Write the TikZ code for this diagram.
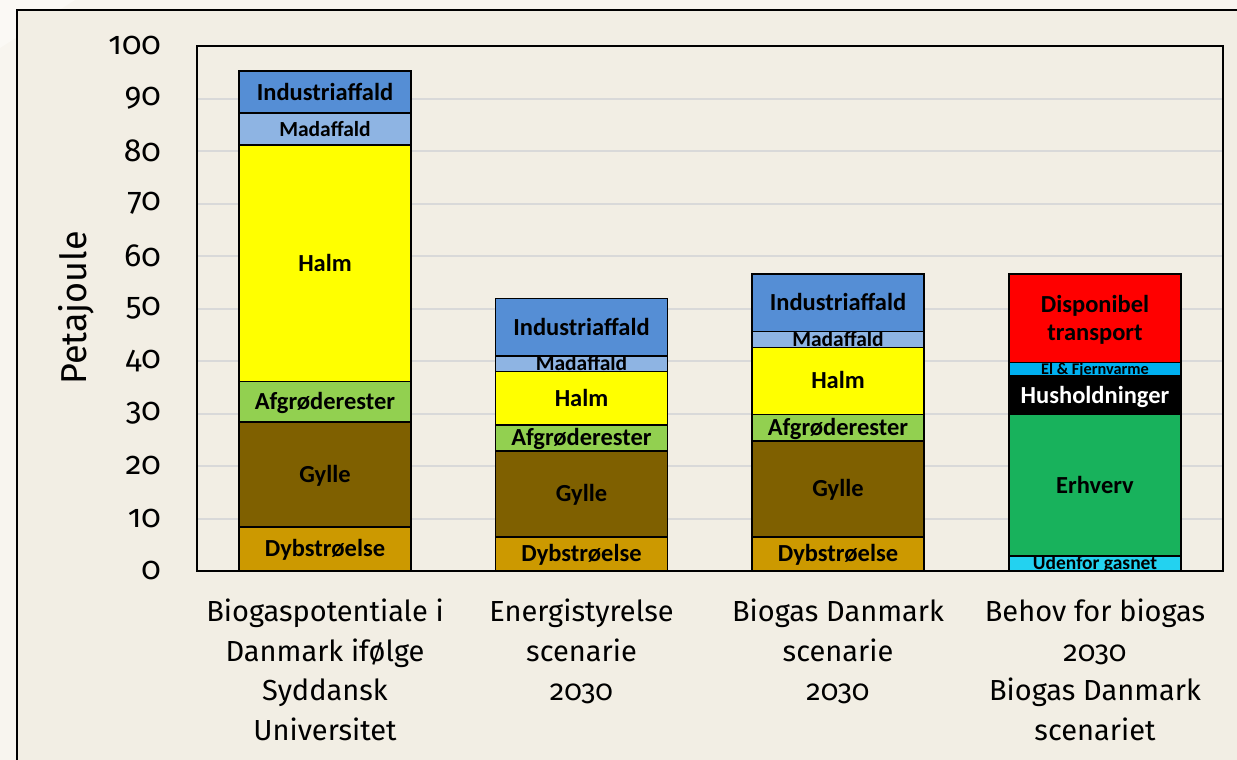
\documentclass[tikz,border=0pt]{standalone}
\usepackage{fontspec}
\setmainfont{Carlito}
\newfontfamily\axfont[Numbers=OldStyle]{Fira Sans}
\definecolor{outbg}{RGB}{248,245,239}
\definecolor{outlight}{RGB}{251,249,245}
\definecolor{bg}{RGB}{242,238,228}
\definecolor{gridc}{RGB}{217,217,217}
\definecolor{cInd}{RGB}{85,142,213}
\definecolor{cMad}{RGB}{142,180,227}
\definecolor{cHalm}{RGB}{255,255,0}
\definecolor{cAfg}{RGB}{146,208,80}
\definecolor{cGyl}{RGB}{127,96,0}
\definecolor{cDyb}{RGB}{204,153,0}
\definecolor{cDisp}{RGB}{255,0,0}
\definecolor{cEl}{RGB}{0,176,240}
\definecolor{cHus}{RGB}{0,0,0}
\definecolor{cErh}{RGB}{24,178,92}
\definecolor{cUd}{RGB}{35,210,240}
\tikzset{
  segline/.style={draw=black, line width=1.6pt},
  seglabel/.style={inner sep=0pt, text depth=0pt},
  ticklab/.style={anchor=east, inner sep=0pt, font=\axfont\fontsize{32}{32}\selectfont},
  catlab/.style={align=center, inner sep=0pt, font=\axfont\fontsize{29}{39.5}\selectfont, anchor=north},
  gridline/.style={draw=gridc, line width=2pt},
}
% #1 name, #2 x centre, #3 bottom value, #4 top value, #5 fill, #6 text colour, #7 font size, #8 label
\newcommand\bseg[8]{%
  \pgfmathsetmacro\ybot{571-5.25*(#3)}%
  \pgfmathsetmacro\ytop{571-5.25*(#4)}%
  \pgfmathsetmacro\ymid{(\ybot+\ytop)/2}%
  \pgfmathsetmacro\capht{0.644*#7}%
  \fill[#5] ({#2-86},\ybot) rectangle ({#2+86},\ytop);
  \begin{scope}
    \clip ({#2-86},\ybot) rectangle ({#2+86},\ytop);
    \node[seglabel, text=#6, text height=\capht pt, font=\bfseries\fontsize{#7}{#7}\selectfont] (#1) at (#2,\ymid) {#8};
  \end{scope}
  \draw[segline] ({#2-86},\ybot) rectangle ({#2+86},\ytop);
}
\begin{document}
\begin{tikzpicture}[x=1pt,y=-1pt]
\useasboundingbox (0,0) rectangle (1237,760);
\fill[outbg] (0,0) rectangle (1237,760);
\fill[outlight] (0,0) -- (75,0) -- (0,48) -- cycle;
\draw[line width=2.4pt, fill=bg] (17,10) rectangle (1260,790);

% grid
\foreach \k in {1,...,9} {
  \draw[gridline] (197,{571-52.5*\k}) -- (1223,{571-52.5*\k});
}
% tick labels
\foreach \k in {0,...,10} {
  \pgfmathtruncatemacro\lab{10*\k}
  \node[ticklab] (t\k) at (161,{571-52.5*\k}) {\lab};
}
\node[rotate=90, inner sep=0pt, font=\axfont\fontsize{36}{36}\selectfont] (ylab) at (76,308) {Petajoule};

% bar 1
\bseg{b1dyb}{325}{0}{8.4}{cDyb}{black}{24.5}{Dybstrøelse}
\bseg{b1gyl}{325}{8.4}{28.4}{cGyl}{black}{24.5}{Gylle}
\bseg{b1afg}{325}{28.4}{36.1}{cAfg}{black}{24.5}{Afgrøderester}
\bseg{b1halm}{325}{36.1}{81.1}{cHalm}{black}{24.5}{Halm}
\bseg{b1mad}{325}{81.1}{87.2}{cMad}{black}{21.5}{Madaffald}
\bseg{b1ind}{325}{87.2}{95.2}{cInd}{black}{24.5}{Industriaffald}
% bar 2
\bseg{b2dyb}{581.5}{0}{6.5}{cDyb}{black}{24.5}{Dybstrøelse}
\bseg{b2gyl}{581.5}{6.5}{22.9}{cGyl}{black}{24.5}{Gylle}
\bseg{b2afg}{581.5}{22.9}{27.8}{cAfg}{black}{24.5}{Afgrøderester}
\bseg{b2halm}{581.5}{27.8}{38.0}{cHalm}{black}{24.5}{Halm}
\bseg{b2mad}{581.5}{38.0}{41.0}{cMad}{black}{21.5}{Madaffald}
\bseg{b2ind}{581.5}{41.0}{51.9}{cInd}{black}{24.5}{Industriaffald}
% bar 3
\bseg{b3dyb}{838}{0}{6.5}{cDyb}{black}{24.5}{Dybstrøelse}
\bseg{b3gyl}{838}{6.5}{24.8}{cGyl}{black}{24.5}{Gylle}
\bseg{b3afg}{838}{24.8}{29.8}{cAfg}{black}{24.5}{Afgrøderester}
\bseg{b3halm}{838}{29.8}{42.6}{cHalm}{black}{24.5}{Halm}
\bseg{b3mad}{838}{42.6}{45.6}{cMad}{black}{21.5}{Madaffald}
\bseg{b3ind}{838}{45.6}{56.6}{cInd}{black}{24.5}{Industriaffald}
% bar 4
\bseg{b4ud}{1095}{0}{2.9}{cUd}{black}{19.5}{Udenfor gasnet}
\bseg{b4erh}{1095}{2.9}{29.8}{cErh}{black}{24.5}{Erhverv}
\bseg{b4hus}{1095}{29.8}{37.2}{cHus}{white}{24.5}{Husholdninger}
\bseg{b4el}{1095}{37.2}{39.7}{cEl}{black}{16.3}{El \& Fjernvarme}
\bseg{b4disp}{1095}{39.7}{56.6}{cDisp}{black}{24}{}
\node[align=center, inner sep=0pt, font=\bfseries\fontsize{24.5}{28}\selectfont] (b4disptxt) at (1095,320) {Disponibel\\transport};

% plot border
\draw[line width=1.4pt] (197,46) rectangle (1223,571);

% category labels
\node[catlab] (c1) at (325,599) {Biogaspotentiale i\\Danmark ifølge\\Syddansk\\Universitet};
\node[catlab] (c2) at (581.5,599) {Energistyrelse\\scenarie\\2030};
\node[catlab] (c3) at (838,599) {Biogas Danmark\\scenarie\\2030};
\node[catlab] (c4) at (1095,599) {Behov for biogas\\2030\\Biogas Danmark\\scenariet};
\end{tikzpicture}
\end{document}
